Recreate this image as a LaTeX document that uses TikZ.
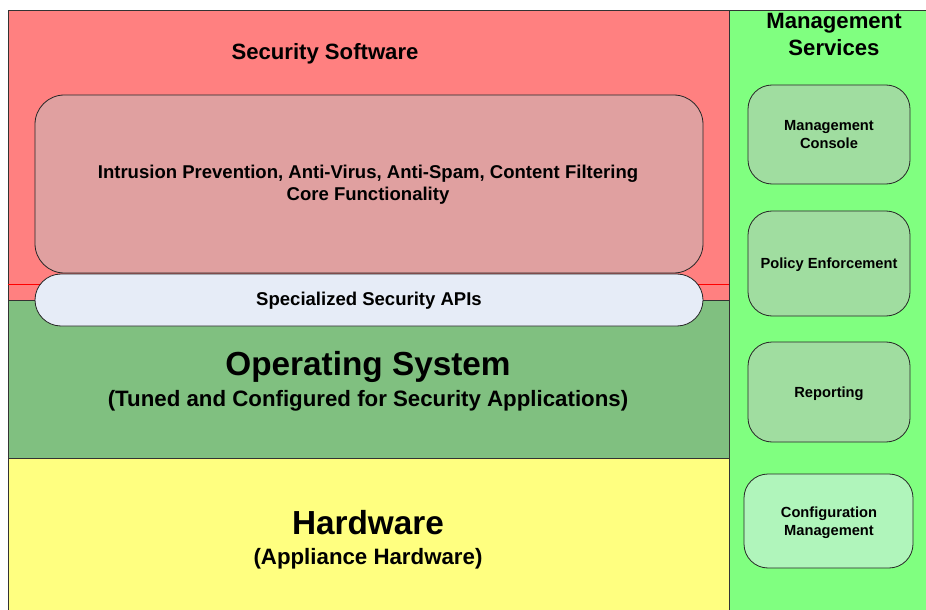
\documentclass[tikz,border=0pt]{standalone}
\usepackage{fontspec}
\setmainfont{Liberation Sans}
\definecolor{secred}{HTML}{FF8080}
\definecolor{corepink}{HTML}{E0A0A0}
\definecolor{apiblue}{HTML}{E6ECF7}
\definecolor{osgreen}{HTML}{80C080}
\definecolor{hwyellow}{HTML}{FFFF80}
\definecolor{mgmtgreen}{HTML}{80FF80}
\definecolor{boxgreen}{HTML}{A0DDA0}
\definecolor{cfggreen}{HTML}{B0F5BB}
\tikzset{
  layer/.style={draw=black!80, line width=0.6pt, inner sep=0pt},
  mbox/.style={draw=black!85, line width=0.6pt, fill=boxgreen, rounded corners=18pt,
     minimum width=162*0.75pt, align=center, font=\bfseries\fontsize{11}{13.5}\selectfont},
  lbl/.style={align=center, inner sep=0pt}
}
\begin{document}
\begin{tikzpicture}[x=0.75pt,y=-0.75pt]
\useasboundingbox (0,0) rectangle (926,610);
\fill[white] (0,0) rectangle (926,610);
% layers
\node[layer, fill=secred, minimum width=721*0.75pt, minimum height=290*0.75pt] (sec) at (368.5,155) {};
\node[layer, fill=osgreen, minimum width=721*0.75pt, minimum height=158*0.75pt] (os) at (368.5,379) {};
\node[layer, fill=hwyellow, minimum width=721*0.75pt, minimum height=154*0.75pt] (hw) at (368.5,535) {};
\node[layer, fill=mgmtgreen, minimum width=197*0.75pt, minimum height=602*0.75pt] (mg) at (827.5,311) {};
\coordinate (rl) at (8,284);
\coordinate (rr) at (729,284);
\draw[red, line width=0.6pt] (rl) -- (rr);
% core box
\node[draw=black!85, line width=0.6pt, fill=corepink, rounded corners=22pt,
  minimum width=668*0.75pt, minimum height=178*0.75pt] (core) at (369,184) {};
\node[draw=black!85, line width=0.6pt, fill=apiblue, rounded corners=19.5pt,
  minimum width=668*0.75pt, minimum height=52*0.75pt] (api) at (369,300) {};
% texts
\node[lbl, font=\bfseries\fontsize{13.9}{16}\selectfont] (apitext) at (369,301) {Specialized Security APIs};
\node[lbl, font=\bfseries\fontsize{16.6}{19}\selectfont] (sectitle) at (325,54) {Security Software};
\node[lbl, font=\bfseries\fontsize{13.9}{16.5}\selectfont] (coretext) at (368,185)
  {Intrusion Prevention, Anti-Virus, Anti-Spam, Content Filtering\\Core Functionality};
\node[lbl, font=\bfseries\fontsize{25}{30}\selectfont] (ostitle) at (368,367) {Operating System};
\node[lbl, font=\bfseries\fontsize{16.7}{20}\selectfont] (ossub) at (368,401) {(Tuned and Configured for Security Applications)};
\node[lbl, font=\bfseries\fontsize{25}{30}\selectfont] (hwtitle) at (368,523) {Hardware};
\node[lbl, font=\bfseries\fontsize{16.7}{20}\selectfont] (hwsub) at (368,559) {(Appliance Hardware)};
\node[lbl, font=\bfseries\fontsize{16.6}{20.5}\selectfont] (mgtitle) at (834,34.5) {Management\\Services};
% management boxes
\node[mbox, minimum height=99*0.75pt] (console) at (829,134.5) {Management\\Console};
\node[mbox, minimum height=105*0.75pt] (policy) at (829,263.5) {};
\node[lbl, font=\bfseries\fontsize{11}{13.5}\selectfont] (policytext) at (829,265) {Policy Enforcement};
\node[mbox, minimum height=100*0.75pt] (report) at (829,392) {};
\node[lbl, font=\bfseries\fontsize{11}{13.5}\selectfont] (reporttext) at (829,394) {Reporting};
\node[mbox, fill=cfggreen, minimum width=169*0.75pt, minimum height=94*0.75pt] (config) at (828.5,521) {};
\node[lbl, font=\bfseries\fontsize{11}{13.5}\selectfont] (configtext) at (829,522.5) {Configuration\\Management};
\end{tikzpicture}
\end{document}
